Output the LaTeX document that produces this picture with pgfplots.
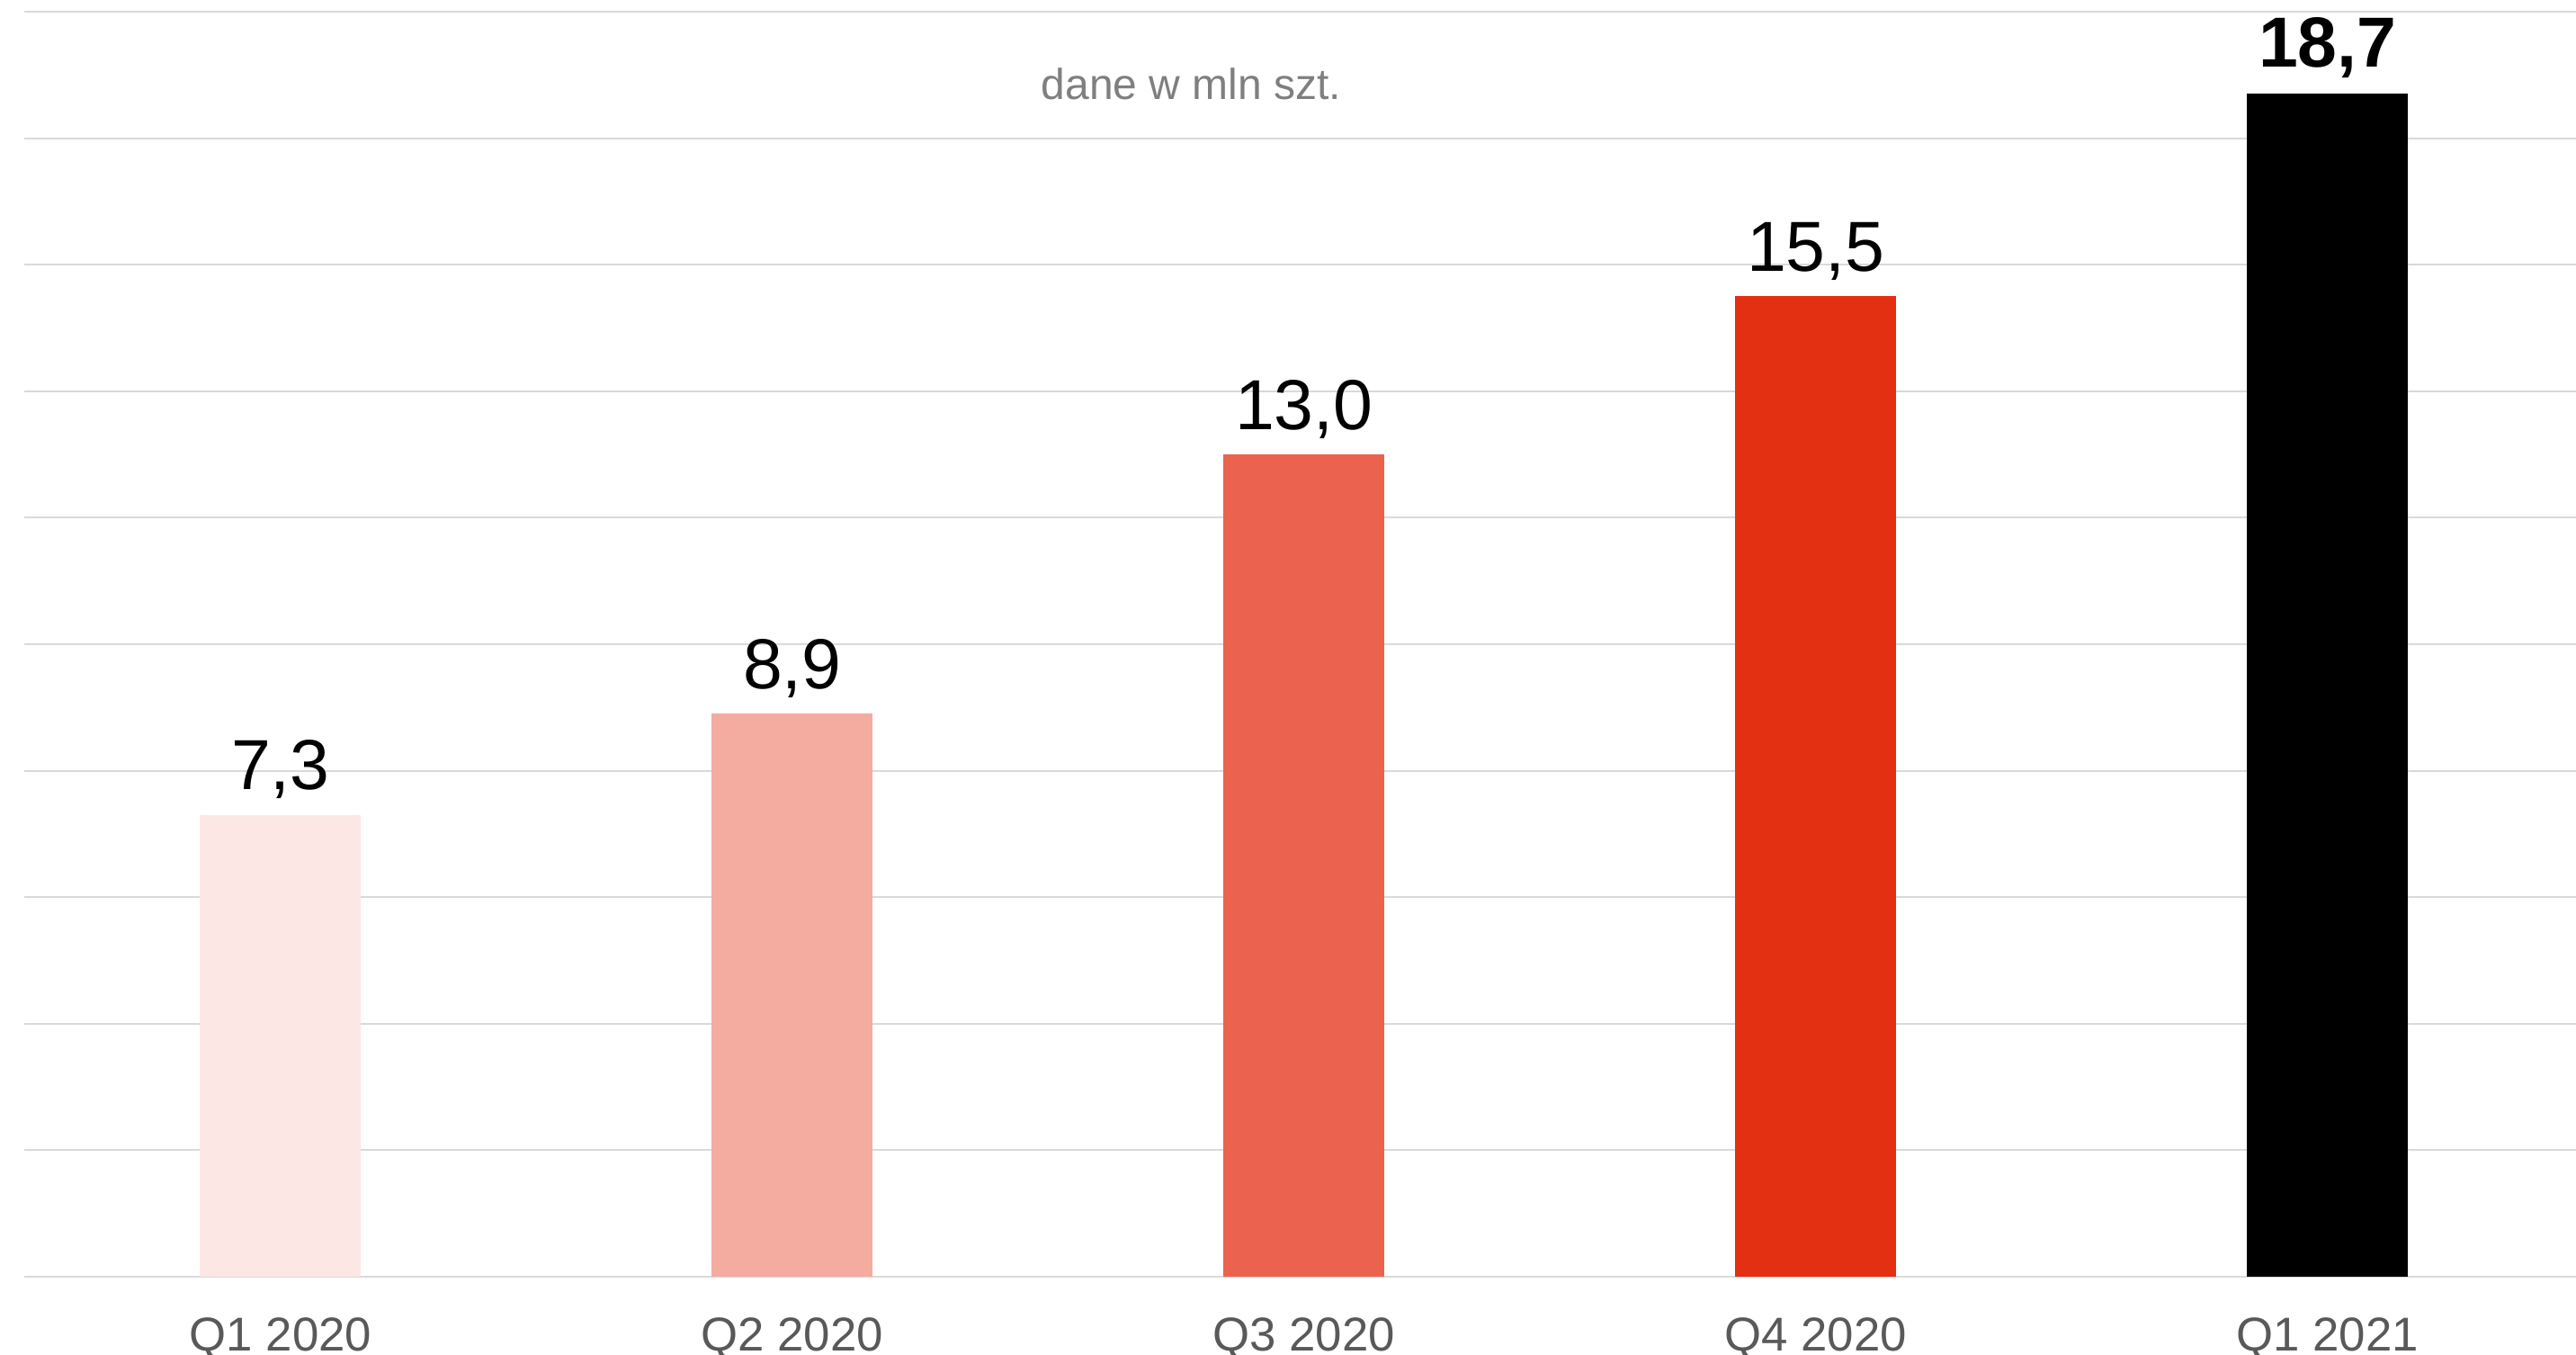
\documentclass[border=0pt]{standalone}
\usepackage{pgfplots}
\pgfplotsset{compat=1.18}
\usepackage{fontspec}
\setmainfont{Liberation Sans}
\definecolor{c1}{HTML}{FCE7E4}
\definecolor{c2}{HTML}{F4ABA0}
\definecolor{c3}{HTML}{EB634F}
\definecolor{c4}{HTML}{E32F12}
\definecolor{gridc}{HTML}{D9D9D9}
\definecolor{tickc}{HTML}{595959}
\definecolor{notec}{HTML}{7F7F7F}
\begin{document}
\begin{tikzpicture}
\useasboundingbox (0,0) rectangle (716bp,376.5bp);
\begin{axis}[
  at={(6.85bp,21.75bp)}, anchor=south west,
  scale only axis, width=711.2bp, height=351.5bp,
  xmin=-0.5, xmax=4.5, ymin=0, ymax=20,
  ytick={0,2,...,20}, yticklabels={},
  ymajorgrids, grid style={gridc, line width=0.5bp},
  axis line style={draw=none},
  major tick length=0pt,
  xtick={0,1,2,3,4},
  xticklabels={Q1 2020,Q2 2020,Q3 2020,Q4 2020,Q1 2021},
  xticklabel style={font=\fontsize{13.2bp}{15bp}\selectfont, text=tickc, anchor=base, yshift=-20.5bp, inner sep=0pt},
  ybar, bar width=44.75bp, bar shift=0pt,
  point meta=explicit symbolic,
  nodes near coords,
  every node near coord/.append style={font=\fontsize{19.7bp}{22bp}\selectfont, text=black, inner sep=0pt, yshift=4.3bp},
  clip=false,
]
\addplot[fill=c1, draw=none] coordinates {(0,7.3) [7,3]};
\addplot[fill=c2, draw=none] coordinates {(1,8.9) [8,9]};
\addplot[fill=c3, draw=none] coordinates {(2,13.0) [13,0]};
\addplot[fill=c4, draw=none] coordinates {(3,15.5) [15,5]};
\addplot[fill=black, draw=none, every node near coord/.append style={font=\fontsize{19.7bp}{22bp}\selectfont\bfseries}] coordinates {(4,18.7) [18,7]};
\node[anchor=base, text=notec, font=\fontsize{12bp}{14bp}\selectfont, inner sep=0pt] at (axis cs:1.78,18.62) {dane w mln szt.};
\end{axis}
\end{tikzpicture}
\end{document}
